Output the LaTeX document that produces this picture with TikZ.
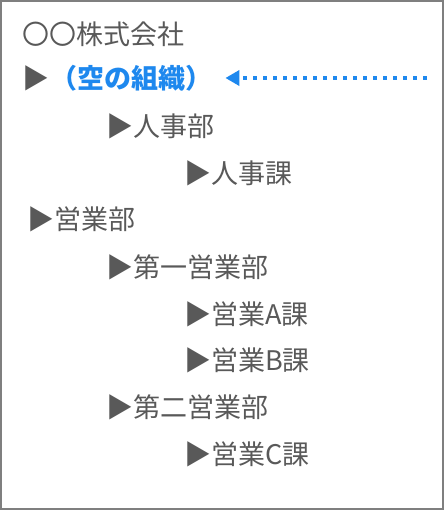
\documentclass[tikz,border=0pt]{standalone}
\usepackage{fontspec}
\setmainfont{Noto Sans CJK JP}
\usetikzlibrary{arrows.meta}
\definecolor{txtgray}{HTML}{595959}
\definecolor{framegray}{HTML}{7F7F7F}
\definecolor{hlblue}{HTML}{1E88EE}
\tikzset{
  item/.style={anchor=west, inner sep=0pt, text=txtgray, font=\fontsize{27}{31}\selectfont},
  blueitem/.style={anchor=west, inner sep=0pt, text=hlblue, font=\fontsize{27}{31}\selectfont\bfseries},
  dotarrow/.style={draw=hlblue, line width=4pt, dash pattern=on 4pt off 6pt, -{Triangle[length=14pt,width=15pt]}, shorten >=13pt}
}
\begin{document}
\begin{tikzpicture}[x=1pt,y=-1pt]
\useasboundingbox (0,0) rectangle (445,510);
\draw[framegray, line width=2pt] (1,1) rectangle (443,509);
\node[item] (company) at (22,34) {〇〇株式会社};
\node[item] (mark) at (22,78) {▶};
\node[blueitem] (empty) at (50,78) {（空の組織）};
\node[item] (jinjibu) at (106,126) {▶人事部};
\node[item] (jinjika) at (184,173) {▶人事課};
\node[item] (eigyobu) at (27,219) {▶営業部};
\node[item] (dai1) at (106,267) {▶第一営業部};
\node[item] (ka_a) at (184,314) {▶営業A課};
\node[item] (ka_b) at (184,360) {▶営業B課};
\node[item] (dai2) at (106,407) {▶第二営業部};
\node[item] (ka_c) at (184,454) {▶営業C課};
\coordinate (arrowstart) at (427,78);
\draw[dotarrow] (arrowstart) -- (empty.east);
\end{tikzpicture}
\end{document}
